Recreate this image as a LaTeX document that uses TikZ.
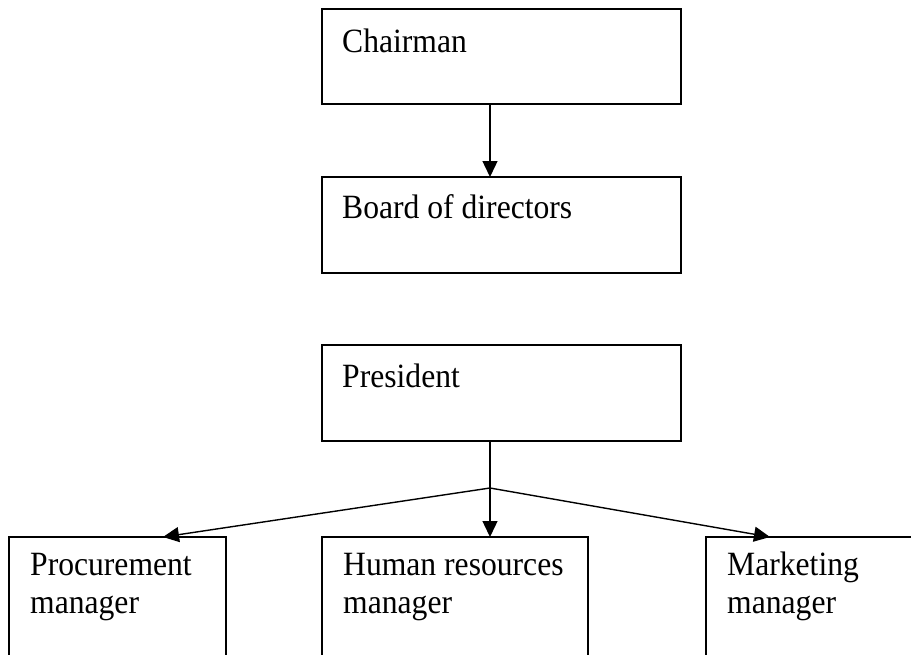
\documentclass[tikz,border=0pt]{standalone}
\usepackage{fontspec}
\setmainfont[FakeStretch=0.93]{Liberation Serif}
\usetikzlibrary{arrows.meta,calc}
\begin{document}
\begin{tikzpicture}[x=1pt,y=-1pt,
  box/.style={draw=black,line width=1.6pt,rectangle,anchor=north west,inner sep=0pt,outer sep=0pt},
  lbl/.style={anchor=base west,inner sep=0pt,align=left,font=\fontsize{34}{38}\selectfont},
  conn/.style={line width=1.4pt,-{Triangle[length=16pt,width=15pt]}},
  plain/.style={line width=1.4pt}]
\useasboundingbox (0,0) rectangle (911,654);
\clip (0,0) rectangle (911,654);
\node[box,minimum width=359pt,minimum height=95pt] (ch) at (322,9) {};
\node[box,minimum width=359pt,minimum height=96pt] (bd) at (322,177) {};
\node[box,minimum width=359pt,minimum height=96pt] (pr) at (322,345) {};
\node[box,minimum width=217pt,minimum height=140pt] (pm) at (9,537) {};
\node[box,minimum width=266pt,minimum height=140pt] (hr) at (322,537) {};
\node[box,minimum width=230pt,minimum height=140pt] (mm) at (706,537) {};
\node[lbl] (cht) at ($(ch.north west)+(20,43)$) {Chairman};
\node[lbl] (bdt) at ($(bd.north west)+(20,41)$) {Board of directors};
\node[lbl] (prt) at ($(pr.north west)+(20,42)$) {President};
\node[lbl] (pmt) at ($(pm.north west)+(21,76)$) {Procurement\\manager};
\node[lbl] (hrt) at ($(hr.north west)+(21,76)$) {Human resources\\manager};
\node[lbl] (mmt) at ($(mm.north west)+(21,76)$) {Marketing\\manager};
\coordinate (j) at (490,488);
\draw[conn] (ch.south west -| j) -- (bd.north west -| j);
\draw[plain] (pr.south west -| j) -- (j);
\draw[conn] (j) -- (pm.north west -| 163,0);
\draw[conn] (j) -- (hr.north west -| j);
\draw[conn] (j) -- (mm.north west -| 770,0);
\end{tikzpicture}
\end{document}
